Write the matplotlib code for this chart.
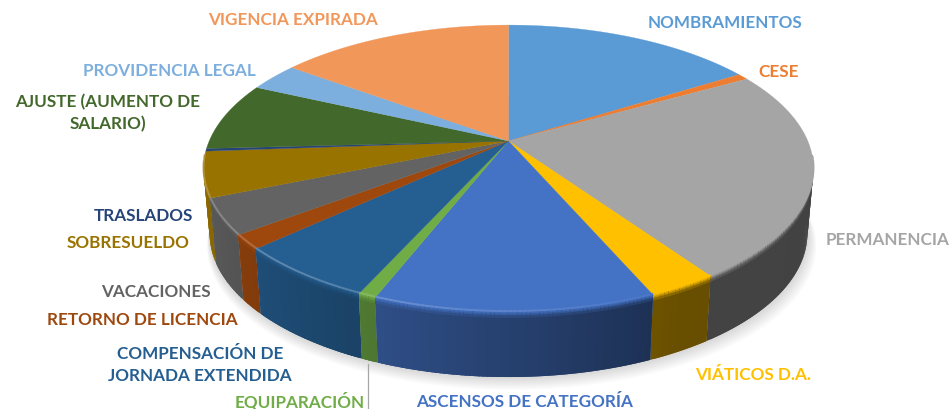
"""3D-look pie chart of personnel actions."""

import matplotlib

matplotlib.use("Agg")
import matplotlib.pyplot as plt
import numpy as np
from matplotlib.collections import LineCollection, PolyCollection
from matplotlib.colors import to_rgb

plt.rcParams["font.family"] = ["Lato", "DejaVu Sans"]

categories = [
    "NOMBRAMIENTOS", "CESE", "PERMANENCIA", "VIÁTICOS D.A.",
    "ASCENSOS DE CATEGORÍA", "EQUIPARACIÓN",
    "COMPENSACIÓN DE\nJORNADA EXTENDIDA", "RETORNO DE LICENCIA",
    "VACACIONES", "SOBRESUELDO", "TRASLADOS",
    "AJUSTE (AUMENTO DE\nSALARIO)", "PROVIDENCIA LEGAL", "VIGENCIA EXPIRADA",
]
values = [16.1, 0.7, 23.5, 3.1, 12.45, 0.8, 6.35, 1.6, 4.0, 5.1, 0.3, 7.7, 3.2, 14.9]
colors = [
    "#5b9bd5", "#ed7d31", "#a5a5a5", "#ffc000", "#4472c4", "#70ad47", "#255e91",
    "#9e480e", "#636363", "#997300", "#264478", "#43682b", "#7cafdd", "#f1975a",
]
label_x = [725, 779, 888, 753, 525, 300, 200, 142, 156, 128, 143, 108, 169, 293]
label_y = [23, 72, 240, 375, 402, 401.5, 365, 320, 292, 243, 216, 113, 71, 20]

# projection of the pie, in figure pixels
CX, CY = 508.5, 142
RX, RY = 299.3, 138.2
TILT = 0.192
DEPTH = 65
BOTTOM_SCALE = 0.98


def project(theta, bottom=False):
    """Clockwise angle from 12 o'clock to picture coordinates."""
    c, s = np.sin(theta), -np.cos(theta)
    w = 1 - TILT * s
    x, y = RX * c / w, RY * s / w
    if bottom:
        return CX + BOTTOM_SCALE * x, CY + y + DEPTH
    return CX + x, CY + y


def mix(a, b, t):
    return tuple((1 - t) * np.array(a) + t * np.array(b))


fig = plt.figure(figsize=(9.52, 4.10), dpi=100)
ax = fig.add_axes([0, 0, 1, 1])
ax.set_xlim(0, 952)
ax.set_ylim(410, 0)
ax.axis("off")

edges = np.cumsum([0] + values) / sum(values) * 2 * np.pi

# soft shadow under the base
ring = np.linspace(0, 2 * np.pi, 361)
bx, by = project(ring, bottom=True)
for d in range(13, 0, -1):
    ax.fill(CX + (bx - CX) * (1 + d * 0.0015) + d * 0.25, by + d, color="black",
            alpha=0.012, lw=0, zorder=1)

# side wall: overlapping thin quads, painted back to front so no seams show
quads, quad_colors, depths = [], [], []
bands = [(1.0, 0.0), (0.09, 0.22), (0.05, 0.55), (0.025, 0.85)]
for i, color in enumerate(colors):
    rgb = to_rgb(color)
    steps = max(2, int(np.degrees(edges[i + 1] - edges[i]) / 0.7) + 1)
    angles = np.linspace(edges[i], edges[i + 1], steps + 1)
    half_step = (angles[1] - angles[0]) / 2
    for k in range(steps):
        a0, a1 = angles[k], angles[k + 1]
        mid = (a0 + a1) / 2
        if -np.cos(mid) < 0.1:
            continue
        # reach over the deeper neighbour, which is painted earlier
        if mid < np.pi:
            a0 = angles[max(k - 1, 0)]
        else:
            a1 = angles[min(k + 2, steps)]
            a0 = max(edges[i], a0 - half_step)
        x0, y0 = project(a0)
        x1, y1 = project(a1)
        x2, y2 = project(a1, bottom=True)
        x3, y3 = project(a0, bottom=True)
        shade = np.interp(np.sin(mid), [-1, -0.45, 0.45, 1], [0.92, 0.72, 0.41, 0.40])
        side = tuple(v * shade for v in rgb)
        for frac, blend in bands:
            quads.append([
                (x0, y0),
                (x1, y1),
                (x1 + (x2 - x1) * frac, y1 + (y2 - y1) * frac),
                (x0 + (x3 - x0) * frac, y0 + (y3 - y0) * frac),
            ])
            quad_colors.append(mix(side, rgb, blend))
            depths.append(-np.cos(mid))
order = np.argsort(depths, kind="stable")
ax.add_collection(PolyCollection(
    [quads[k] for k in order],
    facecolors=[quad_colors[k] for k in order],
    edgecolors="none",
    zorder=2,
))

# top face
for i, color in enumerate(colors):
    angles = np.linspace(edges[i], edges[i + 1], 80)
    x, y = project(angles)
    ax.fill(np.r_[CX, x], np.r_[CY, y], color=color, lw=0.2, zorder=3)

# light bevel along the front rim, fading out towards the right
segs, seg_colors = [], []
for i, color in enumerate(colors):
    rgb = to_rgb(color)
    angles = np.linspace(edges[i], edges[i + 1], 60)
    x, y = project(angles)
    for j in range(len(angles) - 1):
        front = -np.cos(angles[j])
        if front < 0.1:
            continue
        strength = 0.28 * np.clip((0.55 - np.sin(angles[j])) / 1.2, 0, 1)
        segs.append([(x[j], y[j] - 1.0), (x[j + 1], y[j + 1] - 1.0)])
        seg_colors.append(mix(rgb, (1, 1, 1), strength))
ax.add_collection(LineCollection(segs, colors=seg_colors, linewidths=1.4, zorder=4))

# leader line of the narrowest front slice
ax.plot([368, 368], [365, 410], color="#a6a6a6", lw=0.9, zorder=1)

for name, x, y, color in zip(categories, label_x, label_y, colors):
    ax.text(x, y, name, color=color, fontsize=12.3, fontweight="bold", ha="center",
            va="center", linespacing=1.45, zorder=5)

fig.savefig("out.png", dpi=100)
